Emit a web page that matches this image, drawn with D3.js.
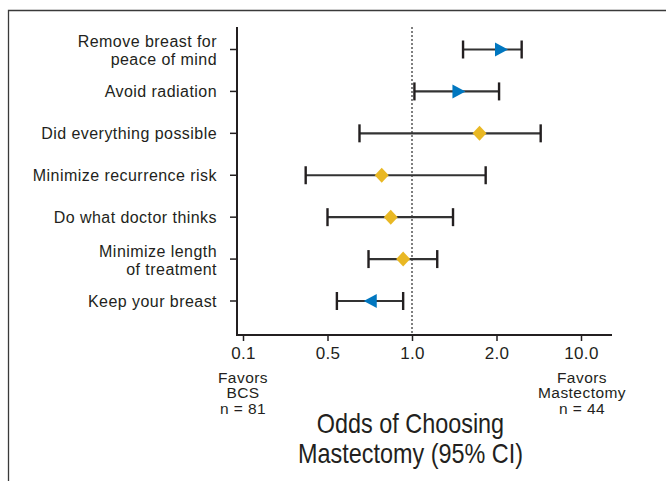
<!DOCTYPE html>
<html><head><meta charset="utf-8">
<script src="https://cdn.jsdelivr.net/npm/d3@7"></script>
<style>
html,body{margin:0;padding:0;background:#fff;}
svg{display:block;}
text{fill:#231f20;}
</style></head>
<body>
<svg id="chart" width="666" height="481"></svg>
<script>
const categories = ["Remove breast for\npeace of mind","Avoid radiation","Did everything possible","Minimize recurrence risk","Do what doctor thinks","Minimize length\nof treatment","Keep your breast"];
const oddsRatio = [2.2, 1.47, 1.74, 0.78, 0.84, 0.93, 0.71];
const ciLow    = [1.52, 1.02, 0.65, 0.33, 0.50, 0.70, 0.54];
const ciHigh   = [3.23, 2.10, 4.64, 1.83, 1.40, 1.23, 0.93];
const markerType = ["right","right","diamond","diamond","diamond","diamond","left"];
const tickValues = [0.1, 0.5, 1.0, 2.0, 10.0];
const tickLabels = ["0.1","0.5","1.0","2.0","10.0"];
const leftNote = ["Favors","BCS","n = 81"];
const rightNote = ["Favors","Mastectomy","n = 44"];
const titleLines = ["Odds of Choosing","Mastectomy (95% CI)"];

const svg = d3.select("#chart");
const ink = "#231f20";
const blue = "#0077c0", yellow = "#e9b824";
const font = "'Liberation Sans', Arial, sans-serif";

// frame
svg.append("path").attr("d","M8.5,481 V10.5 H666").attr("fill","none").attr("stroke","#3a3a3a").attr("stroke-width",1.3);

const axisX0 = 237, axisX1 = 612, axisY = 335, plotTop = 27;
// piecewise log scale with equally spaced ticks
const lx = d3.scaleLinear().domain(tickValues.map(Math.log)).range([243, 327.5, 412, 496.5, 581]);
const x = v => lx(Math.log(v));
const y = d3.scalePoint().domain(d3.range(categories.length)).range([49.5, 301]);

// axes lines
svg.append("path").attr("d",`M${axisX0},${plotTop} V${axisY} H${axisX1}`).attr("fill","none").attr("stroke",ink).attr("stroke-width",2);

// y ticks and labels
const yg = svg.append("g");
categories.forEach((c,i)=>{
  yg.append("line").attr("x1",230).attr("x2",axisX0).attr("y1",y(i)).attr("y2",y(i)).attr("stroke",ink).attr("stroke-width",1.5);
  const lines = c.split("\n");
  const t = yg.append("text").attr("text-anchor","end").attr("font-family",font).attr("font-size",16).attr("letter-spacing","0.45px");
  lines.forEach((l,j)=>{
    const dy = lines.length===1 ? 5.8 : (j===0 ? -2.5 : 15.5);
    t.append("tspan").attr("x",217).attr("y",y(i)+dy).text(l);
  });
});

// x axis ticks
const xAxis = d3.axisBottom(lx).tickValues(tickValues.map(Math.log)).tickFormat((d,i)=>tickLabels[i]).tickSize(6).tickSizeOuter(0);
const xg = svg.append("g").attr("transform",`translate(0,${axisY})`).call(xAxis);
xg.select(".domain").remove();
xg.selectAll(".tick line").attr("stroke",ink).attr("stroke-width",1.5);
xg.selectAll(".tick text").attr("font-family",font).attr("font-size",17).attr("fill",ink).attr("dy","0.9em").attr("letter-spacing","0.3px");

// reference line at 1
svg.append("line").attr("x1",x(1)).attr("x2",x(1)).attr("y1",plotTop).attr("y2",axisY).attr("stroke","#555").attr("stroke-width",1.5).attr("stroke-dasharray","2,2");

// CIs and markers
const g = svg.append("g");
categories.forEach((c,i)=>{
  const yy = y(i);
  g.append("line").attr("x1",x(ciLow[i])).attr("x2",x(ciHigh[i])).attr("y1",yy).attr("y2",yy).attr("stroke","#333").attr("stroke-width",2.2);
  [ciLow[i],ciHigh[i]].forEach(v=>{
    g.append("line").attr("x1",x(v)).attr("x2",x(v)).attr("y1",yy-9).attr("y2",yy+9).attr("stroke",ink).attr("stroke-width",2.4);
  });
  const px = x(oddsRatio[i]);
  let d;
  if(markerType[i]==="diamond"){
    d = `M${px},${yy-7.5} L${px+7},${yy} L${px},${yy+7.5} L${px-7},${yy} Z`;
    g.append("path").attr("d",d).attr("fill",yellow);
  } else if(markerType[i]==="right"){
    d = `M${px-6.5},${yy-7} L${px+6.5},${yy} L${px-6.5},${yy+7} Z`;
    g.append("path").attr("d",d).attr("fill",blue);
  } else {
    d = `M${px+6.5},${yy-7} L${px-6.5},${yy} L${px+6.5},${yy+7} Z`;
    g.append("path").attr("d",d).attr("fill",blue);
  }
});

// notes
function note(lines, cx){
  const t = svg.append("text").attr("text-anchor","middle").attr("font-family",font).attr("font-size",15.5).attr("letter-spacing","0.45px");
  lines.forEach((l,j)=>t.append("tspan").attr("x",cx).attr("y",382.5+j*15.5).text(l));
}
note(leftNote, 243);
note(rightNote, 582);

// title (condensed)
const tg = svg.append("g").attr("transform","translate(410.5,0) scale(0.867,1)");
const tt = tg.append("text").attr("text-anchor","middle").attr("font-family",font).attr("font-size",27);
titleLines.forEach((l,j)=>tt.append("tspan").attr("x",0).attr("y",433+j*30).text(l));
</script>
</body></html>
